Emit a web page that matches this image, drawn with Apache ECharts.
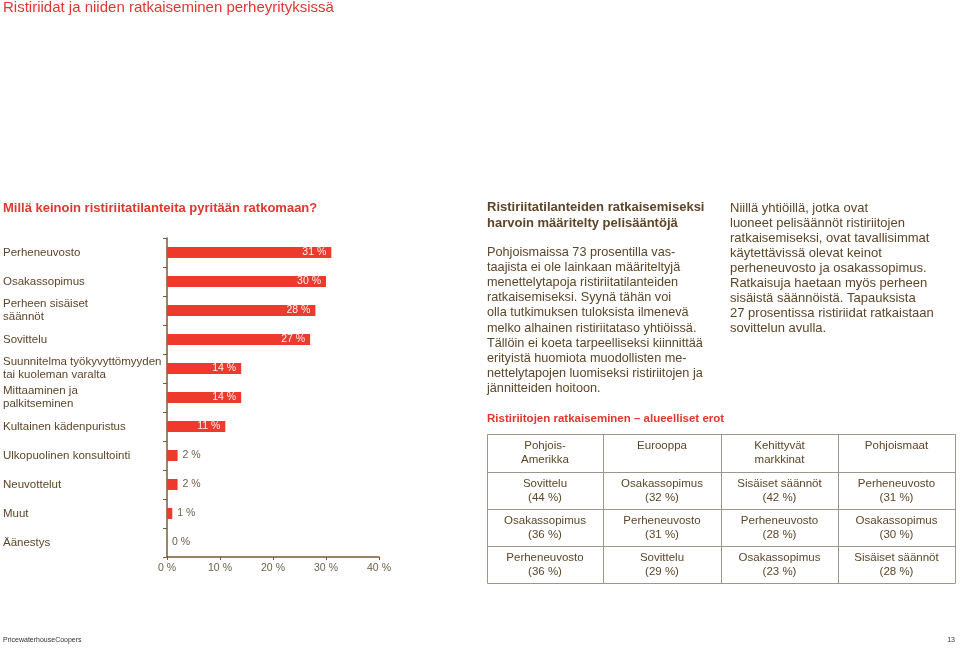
<!DOCTYPE html>
<html>
<head>
<meta charset="utf-8">
<script src="https://cdn.jsdelivr.net/npm/echarts@6/dist/echarts.min.js"></script>
<style>
html,body{margin:0;padding:0;background:#fff;}
#c{width:960px;height:650px;}
</style>
</head>
<body>
<div id="c"></div>
<script>
// ---- data ----
const pageTitle = 'Ristiriidat ja niiden ratkaiseminen perheyrityksissä';
const chartTitle = 'Millä keinoin ristiriitatilanteita pyritään ratkomaan?';
const categories = [
  'Perheneuvosto',
  'Osakassopimus',
  'Perheen sisäiset\nsäännöt',
  'Sovittelu',
  'Suunnitelma työkyvyttömyyden\ntai kuoleman varalta',
  'Mittaaminen ja\npalkitseminen',
  'Kultainen kädenpuristus',
  'Ulkopuolinen konsultointi',
  'Neuvottelut',
  'Muut',
  'Äänestys'
];
const values = [31, 30, 28, 27, 14, 14, 11, 2, 2, 1, 0];
const xTicks = [0, 10, 20, 30, 40];

const textHeading = 'Ristiriitatilanteiden ratkaisemiseksi\nharvoin määritelty pelisääntöjä';
const textBody = 'Pohjoismaissa 73 prosentilla vas-\ntaajista ei ole lainkaan määriteltyjä\nmenettelytapoja ristiriitatilanteiden\nratkaisemiseksi. Syynä tähän voi\nolla tutkimuksen tuloksista ilmenevä\nmelko alhainen ristiriitataso yhtiöissä.\nTällöin ei koeta tarpeelliseksi kiinnittää\nerityistä huomiota muodollisten me-\nnettelytapojen luomiseksi ristiriitojen ja\njännitteiden hoitoon.';
const textRight = 'Niillä yhtiöillä, jotka ovat\nluoneet pelisäännöt ristiriitojen\nratkaisemiseksi, ovat tavallisimmat\nkäytettävissä olevat keinot\nperheneuvosto ja osakassopimus.\nRatkaisuja haetaan myös perheen\nsisäistä säännöistä. Tapauksista\n27 prosentissa ristiriidat ratkaistaan\nsovittelun avulla.';
const tableTitle = 'Ristiriitojen ratkaiseminen – alueelliset erot';
const tableHeaders = ['Pohjois-\nAmerikka', 'Eurooppa', 'Kehittyvät\nmarkkinat', 'Pohjoismaat'];
const tableMethods = [
  ['Sovittelu', 'Osakassopimus', 'Sisäiset säännöt', 'Perheneuvosto'],
  ['Osakassopimus', 'Perheneuvosto', 'Perheneuvosto', 'Osakassopimus'],
  ['Perheneuvosto', 'Sovittelu', 'Osakassopimus', 'Sisäiset säännöt']
];
const tableValues = [
  [44, 32, 42, 31],
  [36, 31, 28, 30],
  [36, 29, 23, 28]
];
const footerLeft = 'PricewaterhouseCoopers';
const footerRight = '13';

// ---- styles ----
const FONT = '"Liberation Sans", Arial, Helvetica, sans-serif';
const RED = '#e0372f';
const BAR = '#ee3a2c';
const BROWN = '#5e4528';
const AXIS = '#7a5a33';
const GRAY = '#6f604e';

const chart = echarts.init(document.getElementById('c'), null, {renderer: 'canvas'});

const barData = values.map(v => ({
  value: v,
  label: v >= 5
    ? {position: 'insideRight', distance: 5, color: 'rgba(255,255,255,0.92)'}
    : {position: 'right', distance: 5, color: GRAY}
}));

// table graphics
const tX = [487, 603, 721, 838, 955];
const tY = [434, 472, 509, 546, 583];
const graphics = [];
graphics.push({type: 'text', left: 3, top: 202, style: {text: chartTitle, font: 'bold 13px ' + FONT, fill: RED}});
graphics.push({type: 'text', x: 487, y: 200, style: {text: textHeading, font: 'bold 13px ' + FONT, fill: BROWN, lineHeight: 15.5, verticalAlign: 'top'}});
graphics.push({type: 'text', x: 487, y: 244.5, style: {text: textBody, font: '12.7px ' + FONT, fill: BROWN, lineHeight: 15.2, verticalAlign: 'top'}});
graphics.push({type: 'text', x: 730, y: 200.5, style: {text: textRight, font: '13px ' + FONT, fill: BROWN, lineHeight: 15, verticalAlign: 'top'}});
graphics.push({type: 'text', x: 487, y: 413, style: {text: tableTitle, font: 'bold 11.5px ' + FONT, fill: RED, verticalAlign: 'top'}});
graphics.push({type: 'rect', shape: {x: tX[0] + 0.5, y: tY[0] + 0.5, width: tX[4] - tX[0], height: tY[4] - tY[0]}, style: {fill: 'none', stroke: '#9c968c', lineWidth: 1}});
for (let i = 1; i < 4; i++) {
  graphics.push({type: 'line', shape: {x1: tX[i] + 0.5, y1: tY[0], x2: tX[i] + 0.5, y2: tY[4]}, style: {stroke: '#9c968c', lineWidth: 1}});
  graphics.push({type: 'line', shape: {x1: tX[0], y1: tY[i] + 0.5, x2: tX[4], y2: tY[i] + 0.5}, style: {stroke: '#9c968c', lineWidth: 1}});
}
for (let c = 0; c < 4; c++) {
  const cx = (tX[c] + tX[c + 1]) / 2;
  graphics.push({type: 'text', x: cx, y: tY[0] + 5, style: {text: tableHeaders[c], font: '11.5px ' + FONT, fill: BROWN, lineHeight: 14, align: 'center', verticalAlign: 'top'}});
  for (let r = 0; r < 3; r++) {
    graphics.push({type: 'text', x: cx, y: tY[r + 1] + 5, style: {text: tableMethods[r][c] + '\n(' + tableValues[r][c] + ' %)', font: '11.5px ' + FONT, fill: BROWN, lineHeight: 14, align: 'center', verticalAlign: 'top'}});
  }
}
graphics.push({type: 'text', x: 3, y: 640, style: {text: footerLeft, font: '7px "Liberation Sans Narrow", ' + FONT, fill: '#333', verticalAlign: 'middle'}});
graphics.push({type: 'text', x: 955, y: 640, style: {text: footerRight, font: '7px "Liberation Sans Narrow", ' + FONT, fill: '#333', align: 'right', verticalAlign: 'middle'}});

chart.setOption({
  backgroundColor: '#fff',
  animation: false,
  textStyle: {fontFamily: FONT},
  title: {
    text: pageTitle, left: 3, top: 0, padding: 0,
    textStyle: {color: RED, fontSize: 15, fontWeight: 'normal', fontFamily: FONT}
  },
  grid: {left: 167, right: 581, top: 238, bottom: 93, containLabel: false},
  xAxis: {
    type: 'value', min: xTicks[0], max: xTicks[xTicks.length - 1], interval: 10,
    axisLine: {show: true, lineStyle: {color: AXIS, width: 1.5}},
    axisTick: {show: true, length: 3, lineStyle: {color: AXIS}},
    splitLine: {show: false},
    axisLabel: {formatter: '{value} %', color: GRAY, fontSize: 10.5, margin: 6, fontFamily: FONT}
  },
  yAxis: {
    type: 'category', data: categories, inverse: true,
    axisLine: {show: true, lineStyle: {color: AXIS, width: 1.5}},
    axisTick: {show: true, length: 4, lineStyle: {color: AXIS}},
    axisLabel: {align: 'left', margin: 164, color: BROWN, fontSize: 11.5, lineHeight: 13.5, fontFamily: FONT}
  },
  series: [{
    type: 'bar', data: barData, barWidth: 11,
    itemStyle: {color: BAR},
    label: {show: true, formatter: '{c} %', fontSize: 10.5, fontFamily: FONT}
  }],
  graphic: graphics
});
</script>
</body>
</html>
